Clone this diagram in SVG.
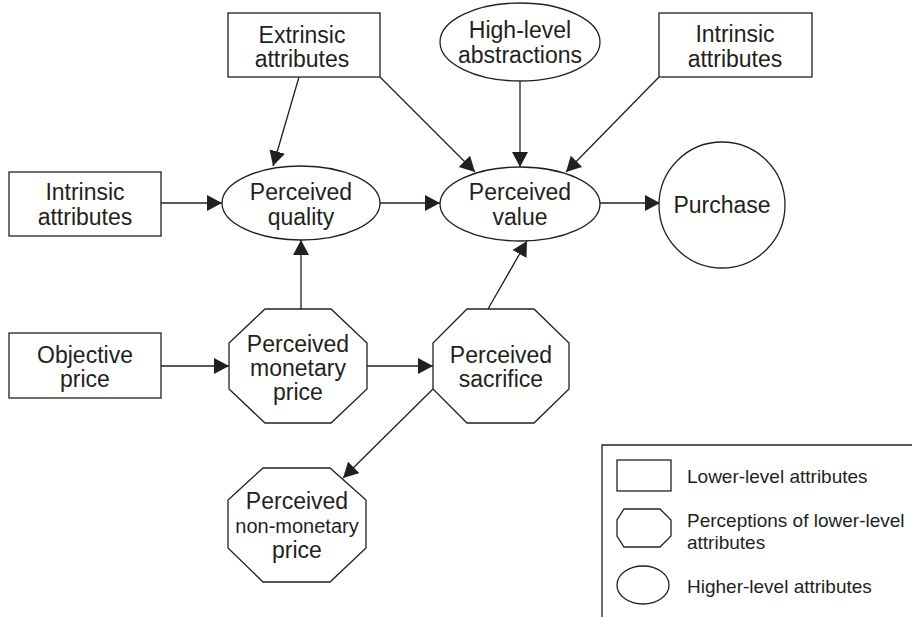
<svg xmlns="http://www.w3.org/2000/svg" width="912" height="617" viewBox="0 0 912 617">
<style>
.s{fill:#fff;stroke:#231f20;stroke-width:1.3}
.t{font-family:"Liberation Sans",Arial,sans-serif;font-size:23px;fill:#231f20;text-anchor:middle}
.l{font-family:"Liberation Sans",Arial,sans-serif;font-size:19px;fill:#231f20}
.c{fill:none;stroke:#231f20;stroke-width:1.3}
</style>
<defs>
<marker id="a" markerUnits="userSpaceOnUse" markerWidth="18" markerHeight="18" refX="15" refY="8" orient="auto">
<path d="M0,0 L15,8 L0,16 Z" fill="#231f20"/>
</marker>
</defs>
<rect width="912" height="617" fill="#fff"/>
<g id="connectors">
<line class="c" x1="299" y1="77" x2="273" y2="166" marker-end="url(#a)"/>
<line class="c" x1="380" y1="77" x2="475" y2="172" marker-end="url(#a)"/>
<line class="c" x1="520" y1="82" x2="520" y2="167" marker-end="url(#a)"/>
<line class="c" x1="659" y1="77" x2="566" y2="172" marker-end="url(#a)"/>
<line class="c" x1="161" y1="203" x2="222" y2="203" marker-end="url(#a)"/>
<line class="c" x1="380" y1="203" x2="440" y2="203" marker-end="url(#a)"/>
<line class="c" x1="600" y1="203" x2="660" y2="203" marker-end="url(#a)"/>
<line class="c" x1="301" y1="309" x2="301" y2="240" marker-end="url(#a)"/>
<line class="c" x1="161" y1="366" x2="229" y2="366" marker-end="url(#a)"/>
<line class="c" x1="367" y1="366" x2="433" y2="366" marker-end="url(#a)"/>
<line class="c" x1="488" y1="309" x2="527" y2="241" marker-end="url(#a)"/>
<line class="c" x1="433" y1="389" x2="343" y2="478" marker-end="url(#a)"/>
</g>
<g id="extrinsic">
<rect class="s" x="228" y="13" width="152" height="64"/>
<text class="t" x="302" y="43">Extrinsic</text>
<text class="t" x="302" y="67">attributes</text>
</g>
<g id="highlevel">
<ellipse class="s" cx="520" cy="42" rx="80" ry="39"/>
<text class="t" x="520" y="38">High-level</text>
<text class="t" x="520" y="63">abstractions</text>
</g>
<g id="intrinsic-right">
<rect class="s" x="659" y="13" width="153" height="64"/>
<text class="t" x="735" y="42">Intrinsic</text>
<text class="t" x="735" y="67">attributes</text>
</g>
<g id="intrinsic-left">
<rect class="s" x="9" y="172" width="152" height="64"/>
<text class="t" x="85" y="200">Intrinsic</text>
<text class="t" x="85" y="225">attributes</text>
</g>
<g id="quality">
<ellipse class="s" cx="301" cy="203" rx="79" ry="37"/>
<text class="t" x="301" y="200">Perceived</text>
<text class="t" x="301" y="225">quality</text>
</g>
<g id="value">
<ellipse class="s" cx="520" cy="204" rx="80" ry="37"/>
<text class="t" x="520" y="200">Perceived</text>
<text class="t" x="520" y="225">value</text>
</g>
<g id="purchase">
<circle class="s" cx="722" cy="205" r="63"/>
<text class="t" x="722" y="213">Purchase</text>
</g>
<g id="objective">
<rect class="s" x="9" y="333" width="152" height="65"/>
<text class="t" x="85" y="363">Objective</text>
<text class="t" x="85" y="387">price</text>
</g>
<g id="monetary">
<polygon class="s" points="265,309 331,309 367,343 367,389 331,423 265,423 229,389 229,343"/>
<text class="t" x="298" y="352">Perceived</text>
<text class="t" x="298" y="376">monetary</text>
<text class="t" x="298" y="400">price</text>
</g>
<g id="sacrifice">
<polygon class="s" points="467,309 534,309 569,343 569,389 534,423 467,423 433,389 433,343"/>
<text class="t" x="501" y="363">Perceived</text>
<text class="t" x="501" y="387">sacrifice</text>
</g>
<g id="nonmonetary">
<polygon class="s" points="263,468 330,468 366,500 366,548 330,582 263,582 228,548 228,500"/>
<text class="t" x="297" y="509">Perceived</text>
<text class="t" x="297" y="533" style="font-size:20px">non-monetary</text>
<text class="t" x="297" y="558">price</text>
</g>
<g id="legend">
<path class="c" d="M602,617 V445 H912"/>
<rect class="s" x="617" y="460" width="54" height="31"/>
<text class="l" x="687" y="483">Lower-level attributes</text>
<polygon class="s" points="624,509 660,509 671,520 671,536 660,547 624,547 617,536 617,520"/>
<text class="l" x="687" y="527">Perceptions of lower-level</text>
<text class="l" x="687" y="549">attributes</text>
<ellipse class="s" cx="643" cy="585" rx="26" ry="19"/>
<text class="l" x="687" y="593">Higher-level attributes</text>
</g>
</svg>
